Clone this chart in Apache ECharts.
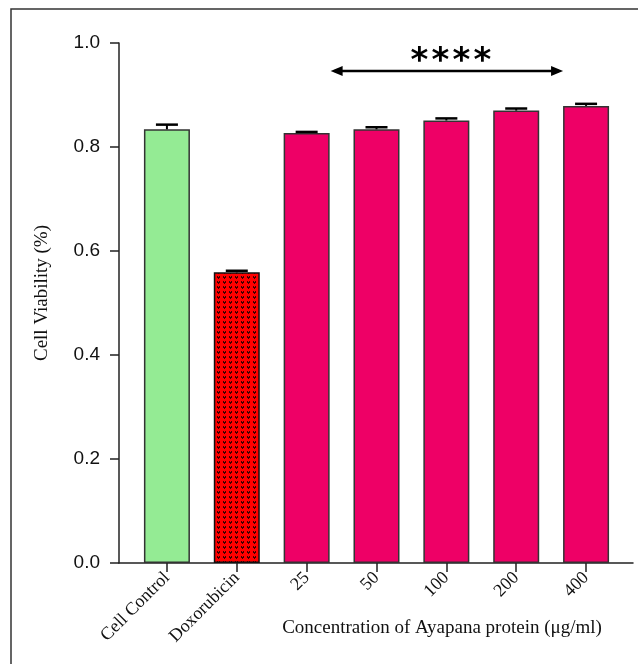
<!DOCTYPE html>
<html>
<head>
<meta charset="utf-8">
<script src="https://cdn.jsdelivr.net/npm/echarts@6/dist/echarts.min.js"></script>
<style>html,body{margin:0;padding:0;background:#fff}#c{width:638px;height:664px}</style>
</head>
<body>
<div id="c"></div>
<script>
// ---- data ----
const categories = ['Cell Control', 'Doxorubicin', '25', '50', '100', '200', '400'];
const viability = [0.834, 0.559, 0.827, 0.834, 0.851, 0.870, 0.879];
const errors = [0.009, 0.003, 0.002, 0.004, 0.004, 0.004, 0.004];
const yTicks = [0, 0.2, 0.4, 0.6, 0.8, 1.0];
const sigFrom = '25';
const sigTo = '400';
const sigLevel = 0.946;
const sigStars = 4;
const sigTextLevel = 0.983;
const yName = 'Cell Viability (%)';
const xName = 'Concentration of Ayapana protein (\u03bcg/ml)';

// ---- pattern for doxorubicin ----
function makePattern() {
  const c = document.createElement('canvas');
  c.width = 6; c.height = 5;
  const g = c.getContext('2d');
  g.fillStyle = '#ff0000';
  g.fillRect(0, 0, 6, 5);
  g.fillStyle = '#400000';
  g.fillRect(1, 1, 1, 1);
  g.fillRect(3, 1, 1, 1);
  g.fillRect(2, 2, 1, 1);
  g.fillRect(1, 2, 1, 1);
  g.fillRect(3, 2, 1, 1);
  g.fillRect(2, 3, 1, 1);
  return c;
}
const pattern = { image: makePattern(), repeat: 'repeat' };

const colors = ['#94EB94', pattern, '#EE0066', '#EE0066', '#EE0066', '#EE0066', '#EE0066'];
const borders = ['#333', '#111', '#333', '#333', '#333', '#333', '#333'];
const BAR_W = 46;

const chart = echarts.init(document.getElementById('c'), null, { renderer: 'canvas' });

const serif = '"Liberation Serif", "Times New Roman", serif';
const sans = '"Liberation Sans", Arial, sans-serif';

chart.setOption({
  animation: false,
  grid: [
    { left: 119, right: 5, top: 43, bottom: 101 },
    { left: 132, width: 489, top: 43, bottom: 101 }
  ],
  xAxis: [
    { type: 'value', gridIndex: 0, min: 0, max: 1,
      axisLine: { show: true, lineStyle: { color: '#222', width: 1.5 } },
      axisTick: { show: false }, axisLabel: { show: false }, splitLine: { show: false } },
    { type: 'category', gridIndex: 1, data: categories,
      axisLine: { show: false },
      axisTick: { show: true, alignWithLabel: true, length: 9, lineStyle: { color: '#222', width: 1.5 } },
      axisLabel: { rotate: 45, margin: 12, color: '#111', fontFamily: serif, fontSize: 18 },
      splitLine: { show: false } }
  ],
  yAxis: [
    { type: 'value', gridIndex: 0, show: false, min: 0, max: 1 },
    { type: 'value', gridIndex: 1, min: 0, max: 1, interval: 0.2, offset: 13,
      axisLine: { show: true, lineStyle: { color: '#222', width: 1.5 } },
      axisTick: { show: true, length: 9, lineStyle: { color: '#222', width: 1.5 } },
      axisLabel: { margin: 19, color: '#111', fontFamily: sans, fontSize: 19,
        formatter: v => v.toFixed(1) },
      splitLine: { show: false },
      name: yName, nameLocation: 'middle', nameGap: 67, nameRotate: 90,
      nameTextStyle: { fontFamily: serif, fontSize: 19, color: '#111', padding: [0, 0, 0, 20] } }
  ],
  series: [
    { type: 'bar', xAxisIndex: 1, yAxisIndex: 1, barWidth: BAR_W,
      data: viability.map((v, i) => ({ value: v, itemStyle: { color: colors[i], borderColor: borders[i], borderWidth: 1.5 } })) },
    { type: 'custom', xAxisIndex: 1, yAxisIndex: 1, z: 5,
      data: viability.map((v, i) => [i, v, v + errors[i]]),
      renderItem: function (params, api) {
        const p0 = api.coord([api.value(0), api.value(1)]);
        const p1 = api.coord([api.value(0), api.value(2)]);
        const half = 11;
        return { type: 'group', children: [
          { type: 'line', shape: { x1: p0[0], y1: p0[1], x2: p1[0], y2: p1[1] }, style: { stroke: '#000', lineWidth: 2 } },
          { type: 'line', shape: { x1: p1[0] - half, y1: p1[1], x2: p1[0] + half, y2: p1[1] }, style: { stroke: '#000', lineWidth: 2.5 } }
        ] };
      } },
    { type: 'custom', xAxisIndex: 1, yAxisIndex: 1, z: 6,
      data: [[categories.indexOf(sigFrom), categories.indexOf(sigTo), sigLevel, sigTextLevel]],
      renderItem: function (params, api) {
        const a = api.coord([api.value(0), api.value(2)]);
        const b = api.coord([api.value(1), api.value(2)]);
        const t = api.coord([api.value(0), api.value(3)]);
        const x1 = a[0] + BAR_W / 2 + 1, x2 = b[0] - BAR_W / 2, y = a[1];
        const hl = 12, hh = 5;
        const children = [
          { type: 'line', shape: { x1: x1 + 4, y1: y, x2: x2 - 4, y2: y }, style: { stroke: '#000', lineWidth: 2.5 } },
          { type: 'polygon', shape: { points: [[x1, y], [x1 + hl, y - hh], [x1 + hl, y + hh]] }, style: { fill: '#000' } },
          { type: 'polygon', shape: { points: [[x2, y], [x2 - hl, y - hh], [x2 - hl, y + hh]] }, style: { fill: '#000' } }
        ];
        const mid = (x1 + x2) / 2 + 4, gap = 21;
        for (let k = 0; k < sigStars; k++) {
          children.push({ type: 'text', style: { text: '*', x: mid + (k - (sigStars - 1) / 2) * gap, y: t[1] + 10,
            align: 'center', verticalAlign: 'middle', font: 'bold 34px "DejaVu Sans", sans-serif', fill: '#000' } });
        }
        return { type: 'group', children };
      } }
  ],
  graphic: [
    { type: 'polyline', shape: { points: [[11, 664], [11, 9], [638, 9]] }, style: { stroke: '#333', lineWidth: 1.5, fill: null } },
    { type: 'text', x: 442, y: 628, style: { text: xName, align: 'center', verticalAlign: 'middle', font: '19px "Liberation Serif", "Times New Roman", serif', fill: '#111' } }
  ]
});
</script>
</body>
</html>
